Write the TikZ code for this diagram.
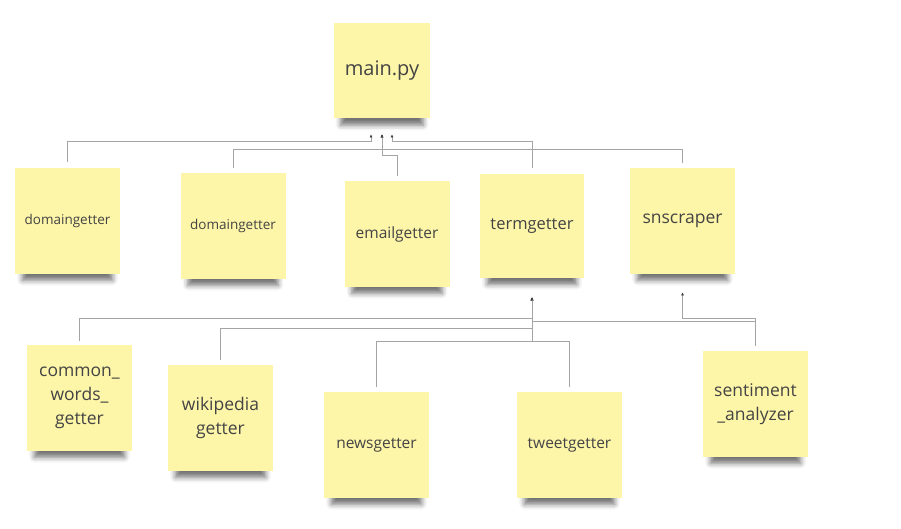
\documentclass[tikz,border=0pt]{standalone}
\usepackage{fontspec}
\setmainfont{Open Sans}
\usetikzlibrary{arrows.meta,shadows.blur}
\definecolor{notefill}{HTML}{FDF5A8}
\definecolor{notetext}{HTML}{444444}
\definecolor{linkgray}{HTML}{A4A4A4}
\begin{document}
\begin{tikzpicture}[
          x = 1pt, y = -1pt, % work in pixels of the sketch
          > = {Latex[length=3pt,width=3pt,color=black!75]}, % small dark tips
          semithick % line style
          ]

          \tikzset{
          note/.style = {
          fill = notefill,
          text = notetext,
          minimum width = 105pt,
          minimum height = 106pt,
          inner sep = 2pt,
          align = center,
          font = \fontsize{17.5}{24}\selectfont,
          blur shadow = {shadow xshift=0pt, shadow yshift=-16pt,
            shadow scale=0.86, shadow opacity=55, shadow blur radius=6pt}
          },
          link/.style = {draw = linkgray, line width = 0.9pt, ->}
          }

          \useasboundingbox (0,0) rectangle (901,528);

          % top level
          \node[note, minimum width=96pt, minimum height=95pt,
            font=\fontsize{20}{24}\selectfont] (main) at (382,70.5) {main.py};

          % second row
          \node[note, font=\fontsize{13.5}{16}\selectfont] (dga) at (67.5,221) {domaingetter};
          \node[note, font=\fontsize{13.5}{16}\selectfont] (dgb) at (233,226) {domaingetter};
          \node[note, font=\fontsize{15.5}{18}\selectfont] (email) at (397,234) {emailgetter};
          \node[note, minimum width=104pt, minimum height=104pt,
            font=\fontsize{16.5}{20}\selectfont] (term) at (532,226) {termgetter};
          \node[note] (sns) at (682.5,221) {snscraper};

          % third row
          \node[note] (common) at (79.5,398) {common\_\\words\_\\getter};
          \node[note] (wiki) at (220.5,418) {wikipedia\\getter};
          \node[note, font=\fontsize{15.5}{18}\selectfont] (news) at (376.5,445) {newsgetter};
          \node[note, font=\fontsize{15.5}{18}\selectfont] (tweet) at (569.5,445) {tweetgetter};
          \node[note, font=\fontsize{17.5}{23.5}\selectfont] (senti) at (755.5,404) {sentiment\\\_analyzer};

          % arrow ends below the parents
          \coordinate (mainl) at ([xshift=-11pt,yshift=-16pt]main.south);
          \coordinate (mainc) at ([yshift=-16pt]main.south);
          \coordinate (mainr) at ([xshift=10pt,yshift=-16pt]main.south);
          \coordinate (termc) at ([yshift=-19pt]term.south);
          \coordinate (snsc) at ([yshift=-18pt]sns.south);

          % links to main.py
          \draw[link] ([yshift=6pt]dga.north) |- ([yshift=-7pt]mainl) -- (mainl);
          \draw[link] ([yshift=5pt]dgb.north) |- ([yshift=-15pt]mainc) -- (mainc);
          \draw[link] ([yshift=5pt]email.north) |- ([yshift=-21pt]mainc) -- (mainc);
          \draw[link] ([yshift=6pt]term.north) |- ([yshift=-7pt]mainr) -- (mainr);
          \draw[link] ([yshift=5pt]sns.north) |- ([yshift=-15pt]mainc) -- (mainc);

          % links to termgetter
          \draw[link] ([yshift=4pt]common.north) |- ([yshift=-21pt]termc) -- (termc);
          \draw[link] ([yshift=5pt]wiki.north) |- ([yshift=-31pt]termc) -- (termc);
          \draw[link] ([yshift=5pt]news.north) |- ([yshift=-44pt]termc) -- (termc);
          \draw[link] ([yshift=5pt]tweet.north) |- ([yshift=-44pt]termc) -- (termc);
          \draw[link] ([yshift=5pt]senti.north) |- ([yshift=-24pt]termc) -- (termc);

          % link to snscraper
          \draw[link] ([yshift=5pt]senti.north) |- ([yshift=-26pt]snsc) -- (snsc);

        \end{tikzpicture}
\end{document}
